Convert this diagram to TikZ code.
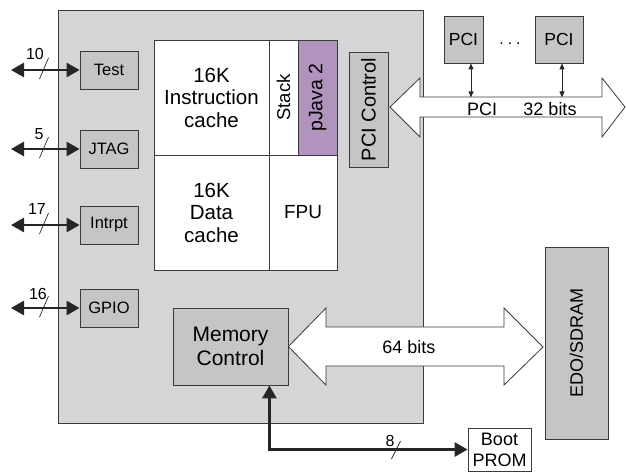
\documentclass[tikz,border=0pt]{standalone}
\usepackage{fontspec}
\setmainfont{Liberation Sans}
\usetikzlibrary{arrows.meta,calc}

\definecolor{chipgray}{HTML}{D4D5D7}
\definecolor{boxgray}{HTML}{C4C5C7}
\definecolor{javapurple}{HTML}{B094BD}
\definecolor{linegray}{HTML}{3A3A3A}

\tikzset{
  chipbox/.style={draw=linegray,fill=chipgray,line width=1pt},
  unitbox/.style={draw=linegray,fill=boxgray,line width=0.8pt,inner sep=0pt,align=center,
    font=\fontsize{18}{21}\selectfont},
  cellbox/.style={draw=linegray,fill=white,line width=0.8pt,inner sep=0pt,align=center,
    font=\fontsize{20.5}{22.5}\selectfont},
  portbox/.style={unitbox,minimum width=58,minimum height=38,font=\fontsize{16.5}{19}\selectfont},
  sigline/.style={line width=2.6pt,draw=black!85,
    {Triangle[length=13pt,width=14pt]}-{Triangle[length=13pt,width=14pt]}},
  slashmark/.style={line width=0.7pt,draw=black!85},
  bitlabel/.style={inner sep=0pt,font=\fontsize{16}{18}\selectfont},
  buslabel/.style={inner sep=0pt,font=\fontsize{18}{20}\selectfont},
  busarrow/.style={draw=linegray,fill=white,line width=0.8pt,line join=miter},
  taparrow/.style={line width=0.9pt,draw=black!85,
    {Triangle[length=6pt,width=5pt]}-{Triangle[length=6pt,width=5pt]}}
}

\begin{document}
\begin{tikzpicture}[x=1pt,y=-1pt]
\useasboundingbox (0,0) rectangle (626,472);

% chip outline
\node[chipbox,minimum width=365,minimum height=413,anchor=north west] (chip) at (58,10) {};

% ports on the left
\node[portbox] (test) at (109,70) {Test};
\node[portbox] (jtag) at (109,149) {JTAG};
\node[portbox] (intrpt) at (109,225) {Intrpt};
\node[portbox] (gpio) at (109,308) {GPIO};

\coordinate (testpin) at (11,70);
\coordinate (jtagpin) at (11,149);
\coordinate (intrptpin) at (11,225);
\coordinate (gpiopin) at (11,308);

\draw[sigline] (testpin) -- (test);
\draw[sigline] (jtagpin) -- (jtag);
\draw[sigline] (intrptpin) -- (intrpt);
\draw[sigline] (gpiopin) -- (gpio);

\draw[slashmark] (39.5,79) -- (48.5,58);
\draw[slashmark] (39.5,158) -- (48.5,137);
\draw[slashmark] (39.5,234) -- (48.5,213);
\draw[slashmark] (39.5,317) -- (48.5,296);
\node[bitlabel] (testbits) at (35,54) {10};
\node[bitlabel] (jtagbits) at (39,134) {5};
\node[bitlabel] (intrptbits) at (37,209) {17};
\node[bitlabel] (gpiobits) at (38,294) {16};

% processor core
\node[cellbox,minimum width=115,minimum height=115] (icache) at (211.5,97.5) {16K\\Instruction\\cache};
\node[cellbox,rotate=90,minimum width=115,minimum height=29,font=\fontsize{18.5}{21}\selectfont] (stack) at (283.5,97.5) {Stack};
\node[cellbox,fill=javapurple,rotate=90,minimum width=115,minimum height=39,font=\fontsize{19.5}{22}\selectfont] (pjava) at (317.5,97.5) {pJava 2};
\node[cellbox,minimum width=115,minimum height=115] (dcache) at (211.5,212.5) {16K\\Data\\cache};
\node[cellbox,minimum width=68,minimum height=115,font=\fontsize{19}{21}\selectfont] (fpu) at (303,212.5) {FPU};

% PCI side
\node[unitbox,rotate=90,minimum width=115,minimum height=39,font=\fontsize{20}{23}\selectfont] (pcictl) at (368.5,109.5) {PCI Control};
\node[unitbox,minimum width=39,minimum height=47,font=\fontsize{17.5}{20}\selectfont] (pci1) at (463.5,39.5) {PCI};
\node[unitbox,minimum width=48,minimum height=47,font=\fontsize{17.5}{20}\selectfont] (pci2) at (559,39.5) {PCI};
\node[inner sep=0pt,font=\fontsize{16}{18}\selectfont] (pcidots) at (510,44) {.\hspace{4pt}.\hspace{4pt}.};

\coordinate (pcitip) at (390,107);
\draw[busarrow] (pcitip) -- (420,78) -- (420,97) -- (602,97) -- (602,78) -- (625,107)
  -- (602,137) -- (602,117) -- (420,117) -- (420,137) -- cycle;
\draw[taparrow] ($(pci1.south)+(7.5,0)$) -- ++(0,34);
\draw[taparrow] ($(pci2.south)+(3,0)$) -- ++(0,34);
\node[buslabel] (pciname) at (482,109) {PCI};
\node[buslabel] (pciwidth) at (550,109) {32 bits};

% memory side
\node[unitbox,minimum width=115,minimum height=77,font=\fontsize{21}{23.5}\selectfont] (memctl) at (230.5,346.5) {Memory\\Control};
\node[unitbox,rotate=90,minimum width=192,minimum height=63] (edo) at (576.5,343) {EDO/SDRAM};

\draw[busarrow] (memctl.east) -- (326,308) -- (326,327) -- (504,327) -- (504,308) -- (543,347)
  -- (504,385) -- (504,366) -- (326,366) -- (326,385) -- cycle;
\node[buslabel] (memwidth) at (409,347) {64 bits};

% boot prom
\node[cellbox,minimum width=63,minimum height=43,font=\fontsize{18}{21}\selectfont] (prom) at (499.5,449.5) {Boot\\PROM};
\draw[sigline] ($(memctl.south east)+(-19,0)$) |- (prom.west);
\draw[slashmark] (391.5,459) -- (400.5,441);
\node[bitlabel] (prombits) at (390,441) {8};
\end{tikzpicture}
\end{document}
